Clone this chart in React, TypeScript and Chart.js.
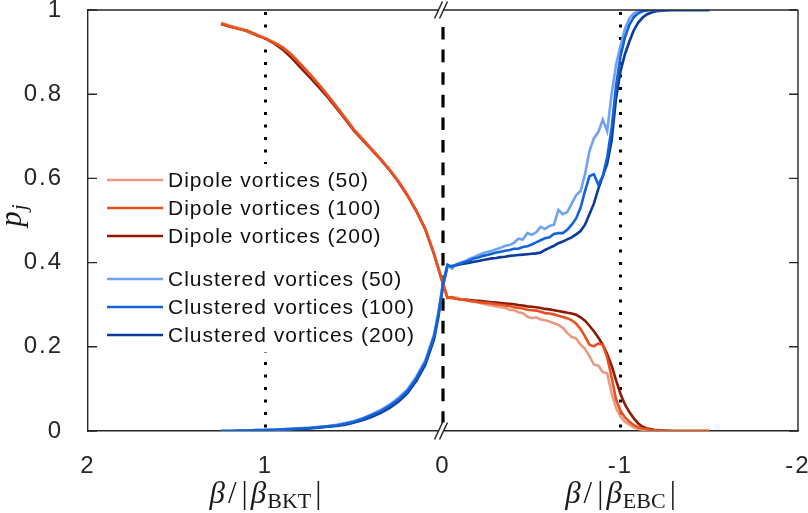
import { useEffect, useRef } from 'react';
import { Chart, registerables } from 'chart.js';

Chart.register(...registerables);

// ---------- data ----------
const xTicks = [2, 1, 0, -1, -2];
const yTicks = [0, 0.2, 0.4, 0.6, 0.8, 1];
const markerLines = [1, -1];

// beta/|beta_BKT| (left half, positive)
const xLeft = [1.25, 1.2, 1.15, 1.1, 1.05, 1.0, 0.95, 0.9, 0.85, 0.8, 0.75, 0.7, 0.65, 0.6, 0.55, 0.5, 0.45, 0.4, 0.35, 0.3, 0.25, 0.2, 0.15, 0.1, 0.05, 0.025, 0];
// beta/|beta_EBC| (right half, negative)
const xRight = [-0.025, -0.05, -0.075, -0.1, -0.125, -0.15, -0.175, -0.2, -0.225, -0.25, -0.275, -0.3, -0.325, -0.35, -0.375, -0.4, -0.425, -0.45, -0.475, -0.5, -0.525, -0.55, -0.575, -0.6, -0.625, -0.65, -0.675, -0.7, -0.725, -0.75, -0.775, -0.8, -0.825, -0.85, -0.875, -0.9, -0.925, -0.95, -0.975, -1, -1.025, -1.05, -1.075, -1.1, -1.125, -1.15, -1.175, -1.2, -1.25, -1.3, -1.4, -1.5];

const dipole50Left = [0.97, 0.963, 0.957, 0.95, 0.942, 0.933, 0.923, 0.911, 0.893, 0.871, 0.848, 0.824, 0.799, 0.772, 0.744, 0.716, 0.693, 0.67, 0.646, 0.621, 0.593, 0.561, 0.524, 0.481, 0.421, 0.386, 0.352];
const dipole100Left = [0.968, 0.961, 0.955, 0.951, 0.941, 0.932, 0.922, 0.91, 0.892, 0.87, 0.847, 0.823, 0.797, 0.77, 0.742, 0.714, 0.691, 0.668, 0.645, 0.62, 0.592, 0.56, 0.523, 0.48, 0.42, 0.385, 0.35];
const dipole200Left = [0.967, 0.96, 0.956, 0.949, 0.94, 0.932, 0.92, 0.905, 0.885, 0.862, 0.84, 0.817, 0.793, 0.767, 0.74, 0.712, 0.69, 0.667, 0.644, 0.619, 0.591, 0.559, 0.522, 0.479, 0.419, 0.384, 0.349];

const clustered50Left = [0, 0, 0.001, 0.001, 0.002, 0.002, 0.003, 0.004, 0.005, 0.007, 0.008, 0.01, 0.012, 0.015, 0.019, 0.024, 0.031, 0.04, 0.05, 0.063, 0.079, 0.099, 0.129, 0.167, 0.23, 0.285, 0.352];
const clustered100Left = [0, 0, 0.001, 0.001, 0.002, 0.002, 0.003, 0.004, 0.005, 0.006, 0.007, 0.009, 0.011, 0.013, 0.017, 0.022, 0.029, 0.038, 0.047, 0.06, 0.075, 0.095, 0.125, 0.163, 0.225, 0.28, 0.35];
const clustered200Left = [0, 0, 0, 0.001, 0.001, 0.002, 0.002, 0.003, 0.004, 0.005, 0.006, 0.008, 0.01, 0.012, 0.015, 0.02, 0.026, 0.034, 0.043, 0.055, 0.07, 0.09, 0.119, 0.157, 0.218, 0.273, 0.345];

const dipole50Right = [0.318, 0.315, 0.317, 0.313, 0.311, 0.309, 0.307, 0.305, 0.302, 0.3, 0.298, 0.296, 0.294, 0.293, 0.288, 0.287, 0.282, 0.28, 0.272, 0.268, 0.27, 0.265, 0.263, 0.26, 0.256, 0.252, 0.245, 0.233, 0.223, 0.22, 0.205, 0.195, 0.178, 0.158, 0.155, 0.14, 0.137, 0.09, 0.055, 0.034, 0.022, 0.015, 0.008, 0.005, 0.003, 0.002, 0.001, 0, 0, 0, 0, 0];
const dipole100Right = [0.316, 0.318, 0.314, 0.312, 0.311, 0.309, 0.308, 0.306, 0.305, 0.304, 0.303, 0.301, 0.3, 0.298, 0.297, 0.294, 0.292, 0.291, 0.288, 0.287, 0.286, 0.283, 0.28, 0.279, 0.277, 0.274, 0.271, 0.268, 0.263, 0.255, 0.242, 0.225, 0.205, 0.201, 0.208, 0.205, 0.175, 0.127, 0.075, 0.048, 0.032, 0.022, 0.014, 0.009, 0.006, 0.004, 0.002, 0.001, 0, 0, 0, 0];
const dipole200Right = [0.317, 0.316, 0.315, 0.313, 0.312, 0.311, 0.31, 0.309, 0.308, 0.307, 0.306, 0.305, 0.304, 0.303, 0.302, 0.301, 0.299, 0.298, 0.296, 0.295, 0.294, 0.292, 0.29, 0.289, 0.287, 0.285, 0.283, 0.281, 0.279, 0.276, 0.27, 0.262, 0.25, 0.237, 0.222, 0.205, 0.183, 0.155, 0.12, 0.088, 0.063, 0.045, 0.03, 0.018, 0.01, 0.006, 0.004, 0.002, 0.001, 0, 0, 0];

const clustered50Right = [0.393, 0.386, 0.396, 0.4, 0.403, 0.41, 0.413, 0.418, 0.422, 0.425, 0.428, 0.432, 0.435, 0.44, 0.442, 0.447, 0.457, 0.455, 0.47, 0.466, 0.472, 0.485, 0.48, 0.487, 0.49, 0.525, 0.515, 0.52, 0.54, 0.56, 0.57, 0.61, 0.665, 0.695, 0.71, 0.74, 0.712, 0.8, 0.87, 0.915, 0.955, 0.98, 0.992, 0.997, 0.999, 1, 1, 1, 1, 1, 1, 1];
const clustered100Right = [0.395, 0.39, 0.395, 0.398, 0.402, 0.405, 0.41, 0.412, 0.416, 0.418, 0.421, 0.424, 0.426, 0.428, 0.43, 0.433, 0.433, 0.437, 0.439, 0.443, 0.448, 0.453, 0.458, 0.46, 0.468, 0.47, 0.47, 0.478, 0.49, 0.505, 0.53, 0.57, 0.605, 0.61, 0.585, 0.605, 0.65, 0.72, 0.82, 0.89, 0.935, 0.965, 0.983, 0.992, 0.997, 0.999, 1, 1, 1, 1, 1, 1];
const clustered200Right = [0.39, 0.392, 0.394, 0.396, 0.398, 0.4, 0.402, 0.404, 0.406, 0.408, 0.41, 0.411, 0.413, 0.414, 0.416, 0.417, 0.418, 0.419, 0.42, 0.421, 0.422, 0.424, 0.43, 0.435, 0.44, 0.446, 0.45, 0.455, 0.46, 0.467, 0.475, 0.49, 0.515, 0.54, 0.575, 0.605, 0.635, 0.69, 0.79, 0.855, 0.895, 0.925, 0.952, 0.97, 0.982, 0.99, 0.994, 0.997, 0.999, 1, 1, 1];

const seriesLabels = [
  'Dipole vortices (50)',
  'Dipole vortices (100)',
  'Dipole vortices (200)',
  'Clustered vortices (50)',
  'Clustered vortices (100)',
  'Clustered vortices (200)',
];
const seriesColors = ['#EB9A82', '#E8501E', '#8E1A06', '#6FA2F2', '#1462D8', '#0A3A9C'];
const seriesOrder = [4, 1, 5, 2, 0, 3];
const seriesLeft = [dipole50Left, dipole100Left, dipole200Left, clustered50Left, clustered100Left, clustered200Left];
const seriesRight = [dipole50Right, dipole100Right, dipole200Right, clustered50Right, clustered100Right, clustered200Right];

// ---------- styling ----------
const AXIS = '#262626';
const SANS = '"Liberation Sans", Arial, Helvetica, sans-serif';
const SERIF = '"Liberation Serif", "Times New Roman", serif';

function drawMath(ctx: CanvasRenderingContext2D, cx: number, baseline: number, parts: { t: string; f: string; dy?: number; gap?: number }[]) {
  let total = 0;
  const widths = parts.map((p) => {
    ctx.font = p.f;
    const w = ctx.measureText(p.t).width + (p.gap || 0);
    total += w;
    return w;
  });
  let x = cx - total / 2;
  parts.forEach((p, i) => {
    ctx.font = p.f;
    ctx.fillText(p.t, x, baseline + (p.dy || 0));
    x += widths[i];
  });
}

const decorPlugin = {
  id: 'decor',
  beforeDraw(chart: any) {
    const ctx = chart.ctx;
    ctx.save();
    ctx.fillStyle = '#fff';
    ctx.fillRect(0, 0, chart.width, chart.height);
    ctx.restore();
    ctx.letterSpacing = '2px';
  },
  beforeDatasetsDraw(chart: any) {
    const ctx = chart.ctx;
    ctx.letterSpacing = '0px';
    const { top, bottom } = chart.chartArea;
    const xs = chart.scales.x;
    ctx.save();
    ctx.strokeStyle = '#000';
    ctx.lineWidth = 3;
    ctx.setLineDash([3, 9.5]);
    for (const v of markerLines) {
      const px = xs.getPixelForValue(v);
      ctx.beginPath();
      ctx.moveTo(px, top + 2);
      ctx.lineTo(px, bottom);
      ctx.stroke();
    }
    ctx.setLineDash([12.6, 10]);
    ctx.lineWidth = 3.2;
    const p0 = xs.getPixelForValue(0);
    ctx.beginPath();
    ctx.moveTo(p0, top + 17);
    ctx.lineTo(p0, bottom);
    ctx.stroke();
    ctx.restore();
  },
  afterDatasetsDraw(chart: any) {
    const ctx = chart.ctx;
    const { left, top } = chart.chartArea;
    ctx.save();
    ctx.fillStyle = '#fff';
    // two legend boxes (dipole, clustered)
    ctx.fillRect(left + 12, top + 154, 280, 95);
    ctx.fillRect(left + 12, top + 249, 318, 93);
    chart.data.datasets.forEach((d: any, i: number) => {
      const y = top + 170 + i * 28 + (i >= 3 ? 15 : 0);
      ctx.strokeStyle = d.borderColor;
      ctx.lineWidth = 2.6;
      ctx.beginPath();
      ctx.moveTo(left + 19, y);
      ctx.lineTo(left + 75, y);
      ctx.stroke();
      ctx.fillStyle = '#111';
      ctx.font = `21px ${SANS}`;
      ctx.letterSpacing = '1px';
      ctx.textBaseline = 'middle';
      ctx.textAlign = 'left';
      ctx.fillText(d.label, left + 80, y + 1);
      ctx.letterSpacing = '0px';
    });
    ctx.restore();
  },
  afterDraw(chart: any) {
    const ctx = chart.ctx;
    ctx.letterSpacing = '0px';
    const { left, right, top, bottom } = chart.chartArea;
    const xs = chart.scales.x;
    const ys = chart.scales.y;
    ctx.save();
    ctx.strokeStyle = AXIS;
    ctx.lineWidth = 1.4;
    ctx.beginPath();
    ctx.moveTo(left, top);
    ctx.lineTo(right, top);
    ctx.moveTo(right, top);
    ctx.lineTo(right, bottom);
    ctx.stroke();
    // inward y ticks on both sides
    for (const v of yTicks) {
      const py = ys.getPixelForValue(v);
      ctx.beginPath();
      ctx.moveTo(left, py);
      ctx.lineTo(left + 9, py);
      ctx.moveTo(right, py);
      ctx.lineTo(right - 9, py);
      ctx.stroke();
    }
    // axis break marks
    const cx = xs.getPixelForValue(0) - 2;
    for (const cy of [top, bottom]) {
      ctx.fillStyle = '#fff';
      ctx.beginPath();
      ctx.moveTo(cx - 2.5 - 4, cy + 8.5);
      ctx.lineTo(cx - 2.5 + 4, cy - 8.5);
      ctx.lineTo(cx + 2.5 + 4, cy - 8.5);
      ctx.lineTo(cx + 2.5 - 4, cy + 8.5);
      ctx.closePath();
      ctx.fill();
      ctx.strokeStyle = AXIS;
      ctx.lineWidth = 1.5;
      for (const d of [-2.5, 2.5]) {
        ctx.beginPath();
        ctx.moveTo(cx + d - 4, cy + 8.5);
        ctx.lineTo(cx + d + 4, cy - 8.5);
        ctx.stroke();
      }
    }
    // axis titles
    ctx.fillStyle = '#1a1a1a';
    ctx.textBaseline = 'alphabetic';
    ctx.textAlign = 'left';
    const it = `italic 31px ${SERIF}`;
    const rm = `31px ${SERIF}`;
    const sub = `22px ${SERIF}`;
    drawMath(ctx, xs.getPixelForValue(1), 503, [
      { t: 'β', f: it, gap: 3 },
      { t: '/', f: rm, gap: 5 },
      { t: '|', f: rm, gap: 3 },
      { t: 'β', f: it, gap: 1 },
      { t: 'BKT', f: sub, dy: 5, gap: 4 },
      { t: '|', f: rm },
    ]);
    drawMath(ctx, xs.getPixelForValue(-1), 503, [
      { t: 'β', f: it, gap: 3 },
      { t: '/', f: rm, gap: 5 },
      { t: '|', f: rm, gap: 3 },
      { t: 'β', f: it, gap: 1 },
      { t: 'EBC', f: sub, dy: 5, gap: 4 },
      { t: '|', f: rm },
    ]);
    ctx.save();
    ctx.translate(21, (top + bottom) / 2 - 5);
    ctx.rotate(-Math.PI / 2);
    drawMath(ctx, 0, 0, [
      { t: 'p', f: `italic 31px ${SERIF}`, gap: 1 },
      { t: 'j', f: `italic 21px ${SERIF}`, dy: 5 },
    ]);
    ctx.restore();
    ctx.restore();
  },
};

export default function App() {
  const ref = useRef<HTMLCanvasElement>(null);
  useEffect(() => {
    const datasets = seriesLabels.map((label, i) => ({
      label,
      data: xLeft
        .map((x, j) => ({ x, y: seriesLeft[i][j] }))
        .concat(xRight.map((x, j) => ({ x, y: seriesRight[i][j] }))),
      borderColor: seriesColors[i],
      backgroundColor: seriesColors[i],
      borderWidth: 2.6,
      pointRadius: 0,
      tension: 0,
      fill: false,
      order: seriesOrder[i],
    }));
    const chart = new Chart(ref.current as HTMLCanvasElement, {
      type: 'line',
      data: { datasets },
      plugins: [decorPlugin],
      options: {
        animation: false,
        responsive: false,
        events: [],
        layout: { padding: { top: 10, right: 10, left: 0, bottom: 0 } },
        plugins: { legend: { display: false }, tooltip: { enabled: false } },
        scales: {
          x: {
            type: 'linear',
            min: -2,
            max: 2,
            reverse: true,
            afterBuildTicks: (s: any) => {
              s.ticks = xTicks.map((v) => ({ value: v }));
            },
            afterFit: (s: any) => {
              s.height = 82;
              s.paddingLeft = 0;
              s.paddingRight = 0;
            },
            grid: { display: false },
            border: { display: true, color: AXIS, width: 1.4 },
            ticks: {
              color: AXIS,
              font: { family: SANS, size: 24 },
              padding: 13,
              maxRotation: 0,
              autoSkip: false,
              callback: (v: any) => String(v),
            },
          },
          y: {
            type: 'linear',
            min: 0,
            max: 1,
            afterBuildTicks: (s: any) => {
              s.ticks = yTicks.map((v) => ({ value: v }));
            },
            afterFit: (s: any) => {
              s.width = 88;
              s.paddingTop = 0;
              s.paddingBottom = 0;
            },
            grid: { display: false },
            border: { display: true, color: AXIS, width: 1.4 },
            ticks: {
              color: AXIS,
              font: { family: SANS, size: 24 },
              padding: 17,
              autoSkip: false,
              callback: (v: any) => String(Number(Number(v).toFixed(1))),
            },
          },
        },
      },
    } as any);
    return () => chart.destroy();
  }, []);
  return (
    <div style={{ position: 'fixed', left: 0, top: 0, width: 808, height: 513, background: '#fff' }}>
      <canvas ref={ref} width={808} height={513} style={{ width: 808, height: 513, display: 'block' }} />
    </div>
  );
}
